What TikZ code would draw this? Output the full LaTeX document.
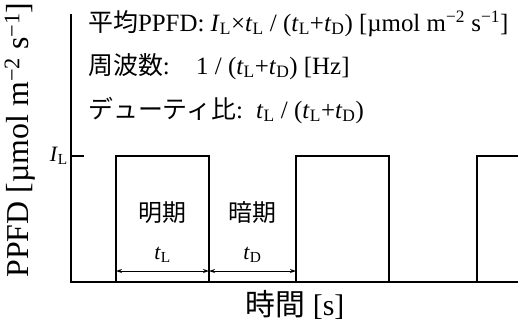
\documentclass[tikz,border=0pt]{standalone}
\usepackage{fontspec}
\setmainfont{Liberation Serif}
\newfontfamily\jp{Noto Sans CJK JP}
\usetikzlibrary{arrows.meta}
\newcommand{\tL}{\textit{t}\textsubscript{L}}
\newcommand{\tD}{\textit{t}\textsubscript{D}}
\newcommand{\IL}{\textit{I}\textsubscript{L}}
\begin{document}
\begin{tikzpicture}[x=1bp,y=-1bp,
  txt/.style={inner sep=0pt,anchor=base west,font=\fontsize{25}{29}\selectfont},
  ax/.style={line width=1.6bp},
  pulse/.style={line width=1.6bp},
  dim/.style={line width=0.9bp,{Stealth[length=6bp,width=4bp]}-{Stealth[length=6bp,width=4bp]}}]
\useasboundingbox (0,0) rectangle (518,323);
% axes
\coordinate (top) at (71,14);
\coordinate (org) at (71,282);
\coordinate (xend) at (518,282);
\draw[ax] (top) -- (org) -- (xend);
\coordinate (tk) at (71,156);
\coordinate (tke) at (84,156);
\draw[ax] (tk) -- (tke);
\node[inner sep=0pt,anchor=east,font=\fontsize{22}{24}\selectfont] (il) at (68,156) {\IL};
% pulses
\draw[pulse] (116,282) -- (116,156) -- (209,156) -- (209,282);
\draw[pulse] (296,282) -- (296,156) -- (389,156) -- (389,282);
\draw[pulse] (477,282) -- (477,156) -- (520,156);
% dimension arrows
\coordinate (a1) at (116,271);
\coordinate (a2) at (209,271);
\coordinate (a3) at (296,271);
\draw[dim] (a1) -- (a2);
\draw[dim] (a2) -- (a3);
\node[inner sep=0pt,font=\fontsize{22}{24}\selectfont] (tl) at (162.5,255) {\tL};
\node[inner sep=0pt,font=\fontsize{22}{24}\selectfont] (td) at (252.5,255) {\tD};
\node[inner sep=0pt,font=\fontsize{24}{28}\selectfont\jp] (mei) at (162.5,213) {明期};
\node[inner sep=0pt,font=\fontsize{24}{28}\selectfont\jp] (an) at (252.5,213) {暗期};
% axis labels
\node[inner sep=0pt,rotate=90,font=\fontsize{32}{36}\selectfont] (ylab) at (20,140) {PPFD [µmol m\textsuperscript{−2} s\textsuperscript{−1}]};
\node[inner sep=0pt,font=\fontsize{30}{34}\selectfont] (xlab) at (295,305) {{\jp 時間} [s]};
% top text
\node[txt] (l1) at (88,31) {{\jp 平均}PPFD: \IL×\tL{} / (\tL+\tD) [µmol m\textsuperscript{−2} s\textsuperscript{−1}]};
\node[txt] (l2) at (88,74) {{\jp 周波数}:};
\node[txt] (l2f) at (196,74) {1 / (\tL+\tD) [Hz]};
\node[txt] (l3) at (88,118) {{\jp デューティ比}:};
\node[txt] (l3f) at (256,118) {\tL{} / (\tL+\tD)};
\end{tikzpicture}
\end{document}
